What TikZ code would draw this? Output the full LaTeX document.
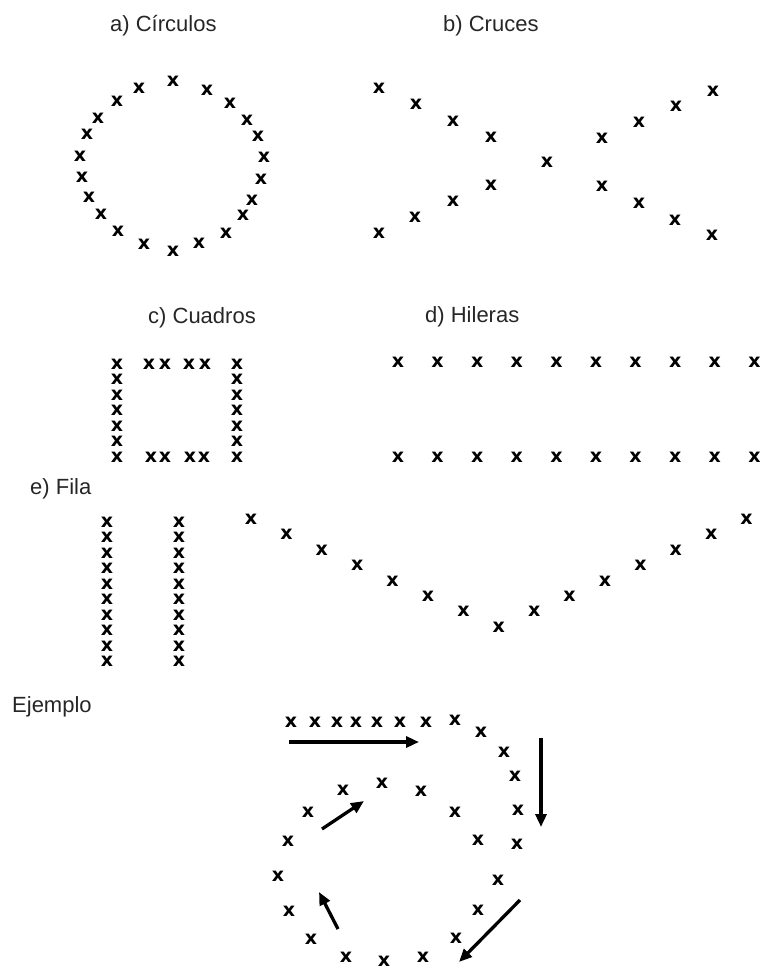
\documentclass[tikz,border=0pt]{standalone}
\usepackage{fontspec}
\setmainfont{Liberation Sans}
\newfontfamily\markfont{DejaVu Sans}
\usetikzlibrary{arrows.meta}

\begin{document}
\begin{tikzpicture}[x=1pt,y=-1pt,
    xmark/.style={inner sep=0pt,font=\markfont\bfseries\fontsize{19}{19}\selectfont},
    lab/.style={anchor=base west,inner sep=0pt,text=black!85,font=\fontsize{22}{26}\selectfont},
    flow/.style={line width=3.3pt,-{Triangle[length=13pt,width=11pt]}}]
    \useasboundingbox (0,0) rectangle (766,969);
    % titles
    \node[lab] (ta) at (110,31) {a) Círculos};
    \node[lab] (tb) at (443,31) {b) Cruces};
    \node[lab] (tc) at (148,323) {c) Cuadros};
    \node[lab] (td) at (425,322) {d) Hileras};
    \node[lab] (te) at (30,494) {e) Fila};
    \node[lab] (tf) at (12,712) {Ejemplo};
    % a) ring of marks
    \foreach \x/\y [count=\i] in {173/81,207/90,230/103,247/120,258/136,264/157,
      261/179,252/200,243/215,226/233,199/243,173/251,144/244,118/231,101/214,
      89/197,82/177,80/156,87/134,98/118,117/101,139/88}
      \node[xmark] (a\i) at (\x,\y) {x};
    % b) two crossing lines
    \foreach \x/\y [count=\i] in {379/88,416/104,453/121,491/137,547/162,602/138,
      639/122,676/106,713/91,379/233,415/217,453/201,491/185,602/186,639/203,
      675/220,712/235}
      \node[xmark] (b\i) at (\x,\y) {x};
    % c) square: two columns, pairs on top and bottom
    \foreach \k in {0,...,6} {
      \node[xmark] (cl\k) at (117,{364+15.5*\k}) {x};
      \node[xmark] (cr\k) at (237,{364+15.5*\k}) {x};
    }
    \foreach \x/\y [count=\i] in {149/364,165/364,189/364,205/364,
      151/457,165/457,190/457,204/457}
      \node[xmark] (cp\i) at (\x,\y) {x};
    % d) two rows
    \foreach \k in {0,...,9} {
      \node[xmark] (du\k) at ({398+39.6*\k},362) {x};
      \node[xmark] (dd\k) at ({398+39.6*\k},457) {x};
    }
    % e) two files and a V
    \foreach \k in {0,...,9} {
      \node[xmark] (el\k) at (107,{522+15.5*\k}) {x};
      \node[xmark] (er\k) at (179,{522+15.5*\k}) {x};
    }
    \foreach \k in {0,...,14}
      \node[xmark] (ev\k) at ({251+35.4*\k},{627-15.4*abs(\k-7)}) {x};
    % example: row turning into a spiral
    \foreach \x/\y [count=\i] in {291/722,315/722,337/722,356/722,377/722,400/722,
      426/722,455/720,481/732,504/752,515/776,518/810,517/844,498/880,478/910,
      456/938,423/957,384/961,346/957,311/939,289/911,278/876,288/841,308/812,
      343/790,382/783,421/791,455/812,478/840}
      \node[xmark] (s\i) at (\x,\y) {x};
    \coordinate (f1a) at (289,742); \coordinate (f1b) at (419,742);
    \coordinate (f2a) at (541,738); \coordinate (f2b) at (541,827);
    \coordinate (f3a) at (520,900); \coordinate (f3b) at (459,962);
    \coordinate (f4a) at (338,929); \coordinate (f4b) at (319,892);
    \coordinate (f5a) at (322,829); \coordinate (f5b) at (364,801);
    \draw[flow] (f1a) -- (f1b);
    \draw[flow] (f2a) -- (f2b);
    \draw[flow] (f3a) -- (f3b);
    \draw[flow] (f4a) -- (f4b);
    \draw[flow] (f5a) -- (f5b);
\end{tikzpicture}
\end{document}
